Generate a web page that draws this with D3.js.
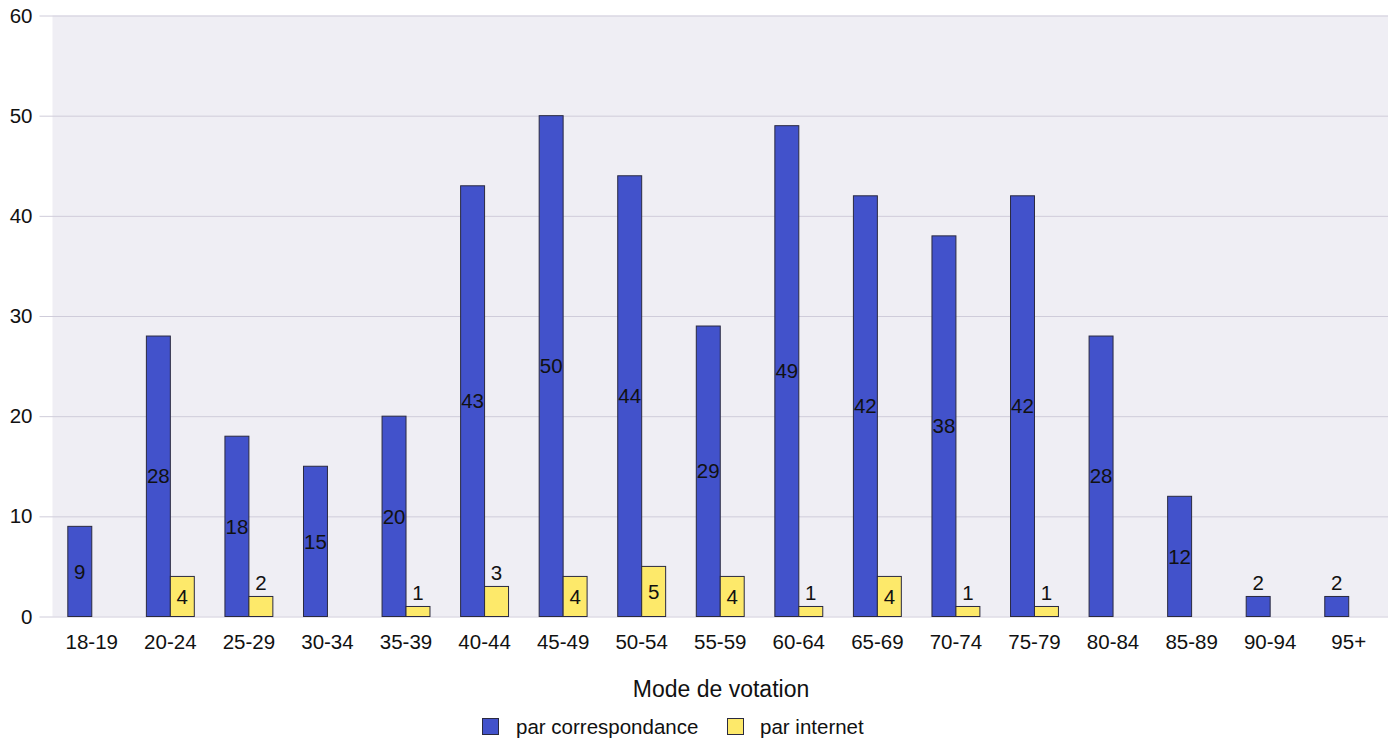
<!DOCTYPE html>
<html><head><meta charset="utf-8">
<script src="https://cdn.jsdelivr.net/npm/d3@7"></script>
<style>body{margin:0;background:#fff}svg{display:block;font-family:"Liberation Sans",Arial,sans-serif}</style>
</head><body><svg id="c" width="1395" height="741"></svg>
<script>
const categories = ["18-19","20-24","25-29","30-34","35-39","40-44","45-49","50-54","55-59","60-64","65-69","70-74","75-79","80-84","85-89","90-94","95+"];
const correspondance = [9,28,18,15,20,43,50,44,29,49,42,38,42,28,12,2,2];
const internet = [null,4,2,null,1,3,4,5,4,1,4,1,1,null,null,null,null];
const seriesNames = ["par correspondance","par internet"];
const seriesColors = ["#4252CB","#FDE96A"];
const yTicks = [0,10,20,30,40,50,60];
const axisTitle = "Mode de votation";

const svg = d3.select("#c");
const L = 52.5, R = 1388, T = 15.5, B = 616.5;
const FONT = "Liberation Sans, Arial, sans-serif";
const FS = 20.5;
const x = d3.scaleBand().domain(categories).range([L, R]).paddingInner(0.39).paddingOuter(0.195);
const xs = d3.scaleBand().domain([0,1]).range([0, x.bandwidth()]);
const y = d3.scaleLinear().domain([0,60]).range([B, T]);

svg.append("rect").attr("x", L).attr("y", T).attr("width", R - L).attr("height", B - T).attr("fill", "#EFEEF4");

// gridlines
const gg = svg.append("g").attr("transform", `translate(${L - 13},0)`)
  .call(d3.axisLeft(y).tickValues(yTicks).tickSize(-(R - L + 13)).tickFormat(""));
gg.select(".domain").remove();
gg.selectAll(".tick line").attr("stroke", "#CFCCDA").attr("stroke-width", 1);

// y labels
const ga = svg.append("g").attr("transform", `translate(${L - 13},0)`)
  .call(d3.axisLeft(y).tickValues(yTicks).tickSize(0).tickPadding(7).tickFormat(d3.format("d")));
ga.select(".domain").remove();
ga.selectAll(".tick text").attr("font-size", FS).attr("fill", "#111").attr("font-family", FONT);

const gx = svg.append("g").attr("transform", `translate(0,${B})`)
  .call(d3.axisBottom(x).tickSize(0).tickPadding(18));
gx.select(".domain").remove();
gx.selectAll(".tick text").attr("font-size", FS).attr("fill", "#111").attr("font-family", FONT);

const series = [correspondance, internet];
series.forEach((vals, si) => {
  const g = svg.append("g");
  categories.forEach((c, i) => {
    const v = vals[i];
    if (v == null) return;
    const bx = x(c) + xs(si);
    const bw = xs.bandwidth();
    g.append("rect").attr("x", bx).attr("y", y(v)).attr("width", bw).attr("height", y(0) - y(v))
      .attr("fill", seriesColors[si]).attr("stroke", "#2a2a40").attr("stroke-width", 1);
    const inside = v >= 4;
    g.append("text").attr("x", bx + bw / 2)
      .attr("y", inside ? (y(v) + y(0)) / 2 : y(v) - 6)
      .attr("dy", inside ? "0.35em" : "0")
      .attr("text-anchor", "middle").attr("font-size", FS).attr("fill", "#111").text(v);
  });
});

svg.append("text").attr("x", 721).attr("y", 697).attr("text-anchor", "middle").attr("font-size", 23).attr("fill", "#111").text(axisTitle);

const leg = [{x: 482, tx: 516}, {x: 727, tx: 760}];
seriesNames.forEach((n, i) => {
  svg.append("rect").attr("x", leg[i].x + 0.5).attr("y", 718.5).attr("width", 16).attr("height", 16)
    .attr("fill", seriesColors[i]).attr("stroke", "#2a2a40").attr("stroke-width", 1);
  svg.append("text").attr("x", leg[i].tx).attr("y", 734).attr("font-size", FS).attr("fill", "#111").text(n);
});
</script></body></html>
